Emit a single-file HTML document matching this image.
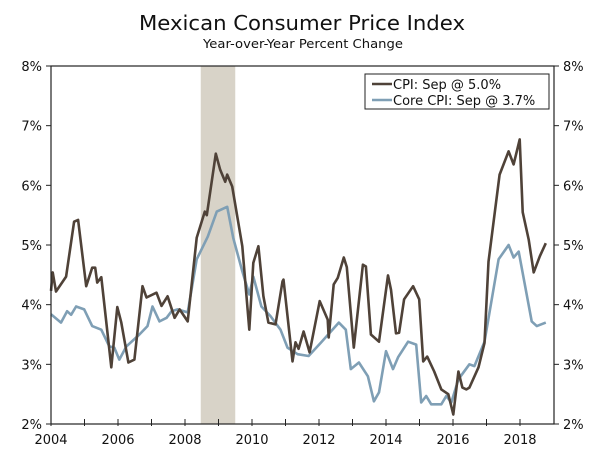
<!DOCTYPE html>
<html><head><meta charset="utf-8"><style>
body{margin:0;background:#fff;}
svg{display:block;font-family:"DejaVu Sans","Liberation Sans",sans-serif;}
</style></head><body>
<svg id="chart" width="600" height="450" viewBox="0 0 600 450" xmlns="http://www.w3.org/2000/svg">
<text x="302" y="30" font-size="20" text-anchor="middle" fill="#111" textLength="326" lengthAdjust="spacingAndGlyphs">Mexican Consumer Price Index</text>
<text x="303" y="48" font-size="12.5" text-anchor="middle" fill="#111" textLength="200" lengthAdjust="spacingAndGlyphs">Year-over-Year Percent Change</text>
<g id="plot"></g>
</svg>
<script>
const yTicks=[2,3,4,5,6,7,8];
const xTicks=[2004,2006,2008,2010,2012,2014,2016,2018];
const recession=[2008.47,2009.5];
const cpiDates=[2004.0,2004.05,2004.15,2004.45,2004.69,2004.81,2005.05,2005.23,2005.32,2005.38,2005.5,2005.8,2005.98,2006.1,2006.31,2006.49,2006.73,2006.85,2007.15,2007.3,2007.48,2007.69,2007.84,2008.08,2008.35,2008.59,2008.65,2008.92,2009.05,2009.2,2009.26,2009.41,2009.71,2009.92,2010.04,2010.19,2010.34,2010.49,2010.7,2010.91,2010.94,2011.06,2011.21,2011.3,2011.39,2011.54,2011.72,2012.02,2012.26,2012.29,2012.44,2012.56,2012.74,2012.83,2013.04,2013.31,2013.4,2013.55,2013.79,2014.06,2014.15,2014.3,2014.39,2014.54,2014.81,2014.99,2015.11,2015.23,2015.44,2015.65,2015.86,2016.01,2016.16,2016.28,2016.4,2016.49,2016.76,2016.94,2017.06,2017.39,2017.66,2017.81,2017.99,2018.08,2018.26,2018.41,2018.59,2018.77];
const cpiValues=[4.23,4.54,4.22,4.47,5.39,5.42,4.31,4.62,4.62,4.37,4.46,2.95,3.96,3.7,3.03,3.08,4.31,4.12,4.2,3.98,4.14,3.78,3.92,3.72,5.12,5.56,5.5,6.53,6.26,6.06,6.18,5.98,4.98,3.58,4.7,4.98,4.14,3.7,3.67,4.39,4.42,3.81,3.05,3.37,3.26,3.55,3.2,4.06,3.75,3.45,4.34,4.45,4.79,4.63,3.28,4.67,4.64,3.5,3.38,4.49,4.25,3.52,3.53,4.09,4.31,4.09,3.05,3.13,2.88,2.58,2.5,2.16,2.88,2.61,2.58,2.61,2.95,3.36,4.72,6.18,6.57,6.35,6.77,5.55,5.09,4.54,4.81,5.03];
const coreDates=[2004.0,2004.3,2004.48,2004.6,2004.75,2004.99,2005.23,2005.5,2005.74,2005.89,2006.04,2006.25,2006.64,2006.88,2007.03,2007.24,2007.45,2007.6,2007.78,2008.08,2008.35,2008.68,2008.95,2009.26,2009.44,2009.71,2009.92,2010.04,2010.28,2010.55,2010.85,2011.06,2011.36,2011.69,2012.05,2012.59,2012.8,2012.95,2013.19,2013.46,2013.64,2013.79,2014.0,2014.21,2014.36,2014.66,2014.9,2015.05,2015.2,2015.35,2015.65,2015.8,2015.95,2016.16,2016.49,2016.64,2016.94,2017.36,2017.66,2017.81,2017.96,2018.35,2018.5,2018.77];
const coreValues=[3.84,3.7,3.89,3.83,3.97,3.92,3.64,3.58,3.3,3.28,3.08,3.3,3.5,3.64,3.97,3.72,3.78,3.89,3.92,3.87,4.76,5.14,5.56,5.64,5.12,4.56,4.17,4.47,3.97,3.81,3.58,3.28,3.17,3.14,3.36,3.7,3.58,2.92,3.03,2.8,2.38,2.53,3.22,2.92,3.12,3.38,3.33,2.36,2.47,2.33,2.33,2.47,2.36,2.75,3.0,2.97,3.38,4.76,5.0,4.79,4.89,3.72,3.64,3.7];

const L=51,R=554,T=66,B=424;
const X0=2004,XPX=33.5;
const xs=v=>L+(v-X0)*XPX;
const ys=v=>B-(v-2)*(B-T)/6;
const NS="http://www.w3.org/2000/svg";
const g=document.getElementById('plot');
function mk(tag,attrs){const e=document.createElementNS(NS,tag);for(const k in attrs)e.setAttribute(k,attrs[k]);g.appendChild(e);return e;}

const rec=mk('rect',{x:xs(recession[0]),y:T,width:xs(recession[1])-xs(recession[0]),height:B-T,fill:'#d8d3c8'});



function line(d,v,color,name){
  const p=d.map((t,i)=>(i?'L':'M')+xs(t).toFixed(1)+','+ys(v[i]).toFixed(1)).join('');
  const e=mk('path',{d:p,fill:'none',stroke:color,'stroke-width':2.6,'stroke-linejoin':'round'});
  
  
}
line(coreDates,coreValues,'#7f9fb5','core-cpi-line');
line(cpiDates,cpiValues,'#4f4238','cpi-line');

const fr=mk('rect',{x:L,y:T,width:R-L,height:B-T,fill:'none',stroke:'#222','stroke-width':1.2});



yTicks.forEach(t=>{
  const y=ys(t);
  mk('line',{x1:L-5,x2:L,y1:y,y2:y,stroke:'#222'});
  mk('line',{x1:R,x2:R+5,y1:y,y2:y,stroke:'#222'});
  const a=mk('text',{x:L-9,y:y+5,'font-size':13,'text-anchor':'end',fill:'#111'});a.textContent=t+'%';
  
  
  const b=mk('text',{x:R+9,y:y+5,'font-size':13,'text-anchor':'start',fill:'#111'});b.textContent=t+'%';
  
  
});
for(let yr=2004;yr<=2018;yr++){
  const x=xs(yr);
  mk('line',{x1:x,x2:x,y1:B-5,y2:B+2,stroke:'#222'});
}
xTicks.forEach(t=>{
  const a=mk('text',{x:xs(t),y:B+20,'font-size':13,'text-anchor':'middle',fill:'#111'});a.textContent=t;
  
  
});

const lg=mk('rect',{x:365,y:74,width:184,height:35,fill:'#fff',stroke:'#222','stroke-width':1});


mk('line',{x1:372,x2:392,y1:84,y2:84,stroke:'#4f4238','stroke-width':2.6});
mk('line',{x1:372,x2:392,y1:100,y2:100,stroke:'#7f9fb5','stroke-width':2.6});
const l1=mk('text',{x:393,y:89,'font-size':13,fill:'#111'});l1.textContent='CPI: Sep @ 5.0%';


const l2=mk('text',{x:393,y:105,'font-size':13,fill:'#111'});l2.textContent='Core CPI: Sep @ 3.7%';


</script>
</body></html>
